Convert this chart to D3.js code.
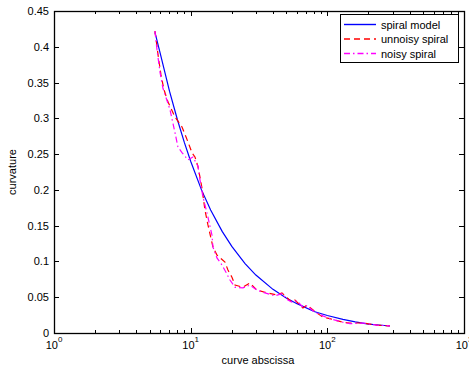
<!DOCTYPE html>
<html><head><meta charset="utf-8">
<script src="https://cdn.jsdelivr.net/npm/d3@7"></script>
<style>body{margin:0;background:#fff}svg{display:block;font-family:"Liberation Sans",Arial,sans-serif}</style>
</head><body>
<svg id="chart" width="469" height="369"></svg>
<script>
// ---- data ----
const modelS = [5.48, 6, 7, 8, 9, 10, 12, 14, 17, 20, 25, 30, 40, 50, 60, 80, 100, 130, 160, 200, 250, 287];
const modelC = [0.42, 0.39, 0.338, 0.298, 0.266, 0.240, 0.200, 0.172, 0.142, 0.121, 0.097, 0.081, 0.061, 0.049, 0.041, 0.030, 0.0245, 0.019, 0.0155, 0.0125, 0.0108, 0.0098];

const unnoisyS = [5.48, 5.77, 6.06, 6.38, 6.82, 7.68, 8.64, 9.56, 10.22, 10.75, 11.31, 12.09, 12.72, 13.38, 14.56, 15.57, 17.82, 18.74, 20.05, 21.09, 24.13, 27.15, 30.54, 34.96, 42.78, 46.54, 55.08, 57.93, 66.29, 70.91, 83.93, 92.84, 104.4, 130.0, 146.3, 182.1, 230.6, 287.0];
const unnoisyC = [0.422, 0.389, 0.361, 0.340, 0.323, 0.302, 0.288, 0.267, 0.252, 0.246, 0.233, 0.203, 0.172, 0.151, 0.120, 0.109, 0.099, 0.088, 0.078, 0.067, 0.064, 0.070, 0.060, 0.057, 0.053, 0.056, 0.043, 0.046, 0.035, 0.039, 0.028, 0.022, 0.020, 0.015, 0.014, 0.014, 0.011, 0.010];

const noisyS = [5.48, 5.67, 5.96, 6.27, 7.06, 7.68, 8.07, 8.64, 9.56, 10.39, 11.31, 11.70, 12.30, 13.16, 14.31, 14.56, 15.57, 16.94, 18.13, 19.39, 21.09, 24.13, 27.15, 30.54, 34.96, 41.37, 46.54, 51.47, 55.08, 59.92, 66.29, 70.91, 81.15, 92.84, 104.4, 130.0, 146.3, 182.1, 230.6, 287.0];
const noisyC = [0.422, 0.396, 0.365, 0.342, 0.312, 0.280, 0.260, 0.252, 0.242, 0.246, 0.233, 0.214, 0.190, 0.168, 0.137, 0.120, 0.105, 0.095, 0.085, 0.074, 0.064, 0.063, 0.067, 0.060, 0.056, 0.052, 0.055, 0.046, 0.043, 0.045, 0.036, 0.038, 0.029, 0.024, 0.020, 0.015, 0.013, 0.014, 0.011, 0.010];

const seriesNames = ["spiral model", "unnoisy spiral", "noisy spiral"];
const yTicks = [0, 0.05, 0.1, 0.15, 0.2, 0.25, 0.3, 0.35, 0.4, 0.45];
const xDecades = [1, 10, 100, 1000];
const xDecadeExp = ["0", "1", "2", "3"];
const xLabel = "curve abscissa";
const yLabel = "curvature";

// ---- layout ----
const L = 54, R = 464, T = 11, B = 333;
const svg = d3.select("#chart");
const x = d3.scaleLog().domain([1, 1000]).range([L, R]);
const y = d3.scaleLinear().domain([0, 0.45]).range([B, T]);

const series = [
  {name: seriesNames[0], s: modelS, c: modelC, color: "#0000ff", dash: null},
  {name: seriesNames[1], s: unnoisyS, c: unnoisyC, color: "#ff0000", dash: "6,4"},
  {name: seriesNames[2], s: noisyS, c: noisyC, color: "#ff00ff", dash: "6,3,1.5,3"}
];

const line = d3.line().x(d => x(d[0])).y(d => y(d[1]));
const plot = svg.append("g");
series.forEach(sr => {
  plot.append("path")
    .datum(sr.s.map((v, i) => [v, sr.c[i]]))
    .attr("d", line)
    .attr("fill", "none")
    .attr("stroke", sr.color)
    .attr("stroke-width", 1.2)
    .attr("stroke-dasharray", sr.dash);
});

// ---- axes ----
const minor = [];
for (let d = 1; d < 1000; d *= 10) for (let k = 2; k <= 9; k++) minor.push(d * k);

const axis = svg.append("g");
axis.append("rect").attr("x", L + 0.5).attr("y", T + 0.5).attr("width", R - L).attr("height", B - T)
  .attr("fill", "none").attr("stroke", "#000").attr("stroke-width", 1.3);

const tk = axis.append("g").attr("stroke", "#000").attr("stroke-width", 1);
xDecades.forEach(v => {
  const px = Math.round(x(v)) + 0.5;
  tk.append("line").attr("x1", px).attr("x2", px).attr("y1", B).attr("y2", B - 5);
  tk.append("line").attr("x1", px).attr("x2", px).attr("y1", T).attr("y2", T + 5);
});
minor.forEach(v => {
  const px = Math.round(x(v)) + 0.5;
  tk.append("line").attr("x1", px).attr("x2", px).attr("y1", B).attr("y2", B - 3);
  tk.append("line").attr("x1", px).attr("x2", px).attr("y1", T).attr("y2", T + 3);
});
yTicks.forEach(v => {
  const py = Math.round(y(v)) + 0.5;
  tk.append("line").attr("x1", L).attr("x2", L + 5).attr("y1", py).attr("y2", py);
  tk.append("line").attr("x1", R).attr("x2", R - 5).attr("y1", py).attr("y2", py);
});

const lab = svg.append("g").attr("font-size", 11).attr("fill", "#000");
yTicks.forEach(v => {
  lab.append("text").attr("x", L - 5).attr("y", y(v) + 4).attr("text-anchor", "end")
    .text(d3.format("")(+v.toFixed(2)));
});
xDecades.forEach((v, i) => {
  const t = lab.append("text").attr("x", x(v)).attr("y", 349).attr("text-anchor", "middle");
  t.append("tspan").text("10");
  t.append("tspan").attr("font-size", 8).attr("dy", -7).text(xDecadeExp[i]);
});
lab.append("text").attr("x", 258).attr("y", 364).attr("text-anchor", "middle").text(xLabel);
lab.append("text").attr("transform", "translate(16,172) rotate(-90)").attr("text-anchor", "middle").text(yLabel);

// ---- legend ----
const lg = svg.append("g");
lg.append("rect").attr("x", 340.5).attr("y", 14.5).attr("width", 118).attr("height", 48)
  .attr("fill", "#fff").attr("stroke", "#000").attr("stroke-width", 1);
series.forEach((sr, i) => {
  const yy = 24.5 + i * 14.5;
  lg.append("line").attr("x1", 344).attr("x2", 376).attr("y1", yy).attr("y2", yy)
    .attr("stroke", sr.color).attr("stroke-width", 1.4).attr("stroke-dasharray", sr.dash);
  lg.append("text").attr("x", 381).attr("y", yy + 4).attr("font-size", 11).text(sr.name);
});
</script>
</body></html>
